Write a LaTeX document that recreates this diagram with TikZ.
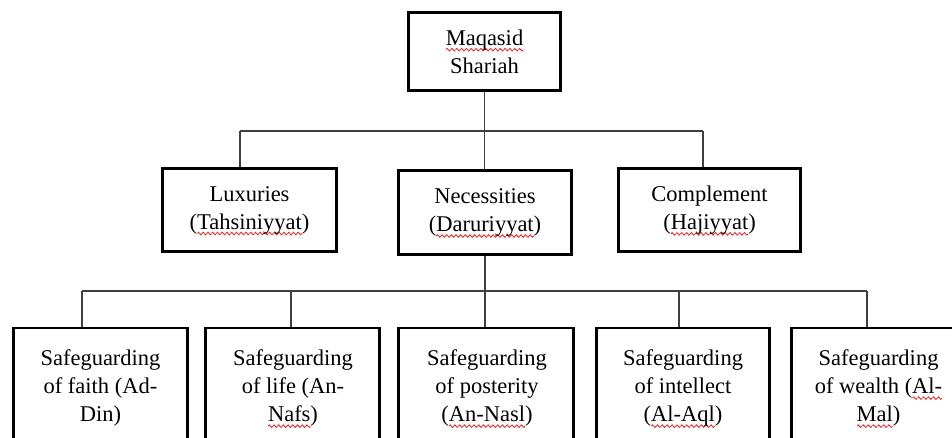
\documentclass[tikz,border=0pt]{standalone}
\usepackage{fontspec}
\setmainfont{Liberation Serif}
\definecolor{sqred}{RGB}{235,30,30}
\newsavebox\wavebox
\newsavebox\sqtmpbox
\newcommand\sq[1]{\leavevmode\sbox\sqtmpbox{#1}\rlap{\smash{\lower6pt\hbox to \wd\sqtmpbox{\xleaders\copy\wavebox\hfill}}}#1}
\begin{document}
\sbox\wavebox{\begin{pgfpicture}%
\pgfsetlinewidth{0.8pt}\pgfsetstrokecolor{sqred}%
\pgfpathmoveto{\pgfpoint{0pt}{0pt}}%
\pgfpathsine{\pgfpoint{1.15pt}{1.3pt}}%
\pgfpathcosine{\pgfpoint{1.15pt}{-1.3pt}}%
\pgfpathsine{\pgfpoint{1.15pt}{-1.3pt}}%
\pgfpathcosine{\pgfpoint{1.15pt}{1.3pt}}%
\pgfusepath{stroke}%
\pgfresetboundingbox
\pgfpathrectangle{\pgfpoint{0pt}{-1.5pt}}{\pgfpoint{4.6pt}{3pt}}%
\pgfusepath{use as bounding box}%
\end{pgfpicture}}%
\begin{tikzpicture}[x=1pt,y=-1pt,
  box/.style={draw=black,line width=2.6pt,inner sep=0pt,align=center,font=\fontsize{22.5}{28}\selectfont},
  boxtext/.style={inner sep=0pt,align=center,anchor=north,font=\fontsize{22.5}{28}\selectfont},
  conn/.style={draw=black!75,line width=1.3pt}]
\useasboundingbox (0,0) rectangle (952,438);
\clip (0,0) rectangle (952,438);
% level 0
\node[box,minimum width=152.4pt,minimum height=78.4pt] (top) at (484.5,51.5) {\sq{Maqasid}\\Shariah};
% level 1
\node[box,minimum width=174.4pt,minimum height=83.4pt] (lux) at (249.5,210) {Luxuries\\(\sq{Tahsiniyyat})};
\node[box,minimum width=173.4pt,minimum height=84.4pt] (nec) at (485,212.5) {Necessities\\(\sq{Daruriyyat})};
\node[box,minimum width=182.4pt,minimum height=83.4pt] (comp) at (709.5,210) {Complement\\(\sq{Hajiyyat})};
% level 2 boxes
\node[box,minimum width=174.4pt,minimum height=160pt] (b1) at (100.5,408) {};
\node[box,minimum width=174.4pt,minimum height=160pt] (b2) at (292.5,408) {};
\node[box,minimum width=175.4pt,minimum height=160pt] (b3) at (486,408) {};
\node[box,minimum width=173.4pt,minimum height=160pt] (b4) at (683,408) {};
\node[box,minimum width=174.4pt,minimum height=160pt] (b5) at (878.5,408) {};
\node[boxtext] (t1) at (100.5,349.6) {Safeguarding\\of faith (Ad-\\Din)};
\node[boxtext] (t2) at (293,349.6) {Safeguarding\\of life (An-\\\sq{Nafs})};
\node[boxtext] (t3) at (487,349.6) {Safeguarding\\of posterity\\(\sq{An-Nasl})};
\node[boxtext] (t4) at (683,349.6) {Safeguarding\\of intellect\\(\sq{Al-Aql})};
\node[boxtext] (t5) at (878.5,349.6) {Safeguarding\\of wealth (\sq{Al-}\\\sq{Mal})};
% connectors level 0 -> 1
\coordinate (j1l) at (240,131);
\coordinate (j1r) at (703,131);
\draw[conn] (top.south) -- (top.south |- nec.north);
\draw[conn] (j1l) -- (j1r);
\draw[conn] (j1l) -- (j1l |- lux.north);
\draw[conn] (j1r) -- (j1r |- comp.north);
% connectors level 1 -> 2
\coordinate (j2l) at (82,291);
\coordinate (j2b) at (291,291);
\coordinate (j2d) at (679,291);
\coordinate (j2r) at (867,291);
\draw[conn] (nec.south) -- (nec.south |- b3.north);
\draw[conn] (j2l) -- (j2r);
\draw[conn] (j2l) -- (j2l |- b1.north);
\draw[conn] (j2b) -- (j2b |- b2.north);
\draw[conn] (j2d) -- (j2d |- b4.north);
\draw[conn] (j2r) -- (j2r |- b5.north);
\end{tikzpicture}
\end{document}
